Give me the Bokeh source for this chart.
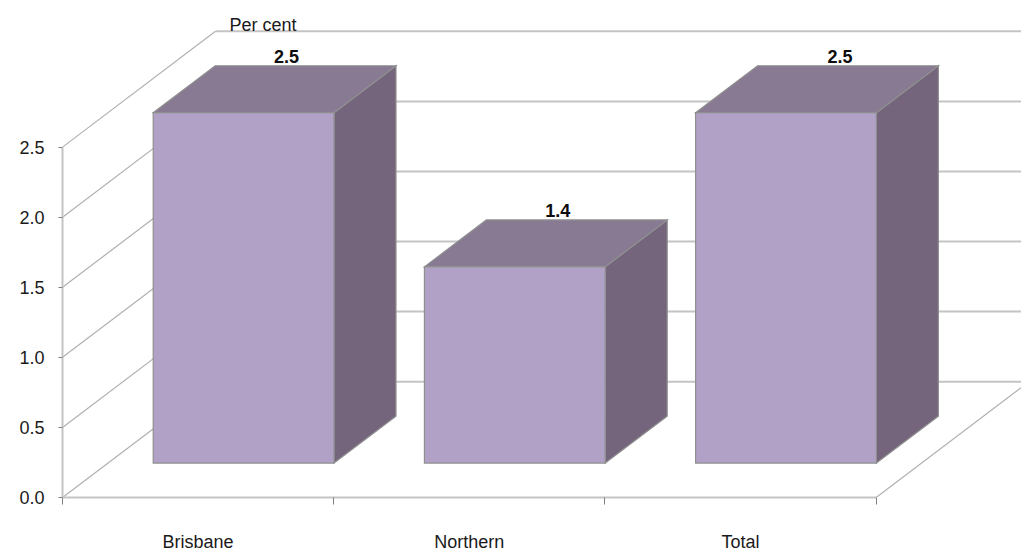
from bokeh.core.properties import value
from bokeh.embed import file_html
from bokeh.models import FixedTicker, Range1d
from bokeh.plotting import figure
from bokeh.resources import INLINE

# Chart data
categories = ["Brisbane", "Northern", "Total"]
percent = [2.5, 1.4, 2.5]
value_ticks = [0.0, 0.5, 1.0, 1.5, 2.0, 2.5]
value_labels = ["0.0", "0.5", "1.0", "1.5", "2.0", "2.5"]
unit_label = "Per cent"

# Layout of the box, in screen pixels
PX_LEFT, PX_BOTTOM = 62, 54
W, H = 1021, 554
PX_PER_CAT, PX_PER_VAL = 271.2, 141.0
DEPTH_PX_X, DEPTH_PX_Y = 153.0, 116.5
LABEL_NUDGE_PX = [-19, -19, -8]

# Bar placement inside each category slot (x) and through the depth (d)
BAR_INSET = 1 / 6
BAR_D0, BAR_D1 = 0.2975, 0.7025

FONT = value("Liberation Sans")
FRONT, TOP, SIDE = "#b1a1c6", "#897a94", "#74657c"
EDGE = "#8f8f8f"
GRID = "#c4c4c4"
DIAG = "#b0b0b0"

dx_unit = DEPTH_PX_X / PX_PER_CAT
dy_unit = DEPTH_PX_Y / PX_PER_VAL


def project(x, v, d):
    """Oblique projection of (category position, value, depth) onto the plot plane."""
    return x + d * dx_unit, v + d * dy_unit


p = figure(
    width=W, height=H, output_backend="svg", toolbar_location=None,
    x_range=Range1d(0, (W - PX_LEFT) / PX_PER_CAT),
    y_range=Range1d(0, (H - PX_BOTTOM) / PX_PER_VAL),
    min_border_left=PX_LEFT, min_border_right=0, min_border_top=0, min_border_bottom=PX_BOTTOM,
)
p.outline_line_color = None
p.grid.visible = False
p.background_fill_color = "white"
p.border_fill_color = "white"

# Back wall gridlines and side wall diagonals
n_cat = len(categories)
for v in value_ticks:
    x0, y0 = project(0, v, 1)
    x1, y1 = project(n_cat, v, 1)
    p.line([x0, x1], [y0, y1], line_color=GRID, line_width=2)
    x2, y2 = project(0, v, 0)
    p.line([x2, x0], [y2, y0], line_color=DIAG, line_width=1.2)

# Floor edge on the right
fx0, fy0 = project(n_cat, 0, 0)
fx1, fy1 = project(n_cat, 0, 1)
p.line([fx0, fx1], [fy0, fy1], line_color=DIAG, line_width=1.2)

# Bars: side and top faces first, then the front face
for i, val in enumerate(percent):
    xl, xr = i + BAR_INSET, i + 1 - BAR_INSET
    corners = {
        "side": [project(xr, 0, BAR_D0), project(xr, 0, BAR_D1), project(xr, val, BAR_D1), project(xr, val, BAR_D0)],
        "top": [project(xl, val, BAR_D0), project(xr, val, BAR_D0), project(xr, val, BAR_D1), project(xl, val, BAR_D1)],
        "front": [project(xl, 0, BAR_D0), project(xr, 0, BAR_D0), project(xr, val, BAR_D0), project(xl, val, BAR_D0)],
    }
    for face, colour in (("side", SIDE), ("top", TOP), ("front", FRONT)):
        xs = [c[0] for c in corners[face]]
        ys = [c[1] for c in corners[face]]
        p.patch(xs, ys, fill_color=colour, line_color=EDGE, line_width=1.2, line_join="miter")

    # Value printed above the bar
    lx, ly = project((xl + xr) / 2, val, BAR_D1)
    p.text([lx], [ly], text=[f"{val:.1f}"], text_font=FONT, text_font_size="18px",
           text_font_style="bold", text_color="#0d0d0d", text_align="center",
           text_baseline="alphabetic", x_offset=LABEL_NUDGE_PX[i], y_offset=-9)

# Unit caption at the top of the value axis
ux, uy = project(0, value_ticks[-1], 1)
p.text([ux], [uy], text=[unit_label], text_font=FONT, text_font_size="18px", text_color="#1a1a1a",
       text_align="left", text_baseline="alphabetic", x_offset=14, y_offset=-6)

# Value axis
ya = p.yaxis[0]
ya.ticker = FixedTicker(ticks=value_ticks)
ya.major_label_overrides = dict(zip(value_ticks, value_labels))
ya.bounds = (value_ticks[0], value_ticks[-1])
ya.axis_line_color = GRID
ya.axis_line_width = 2
ya.major_tick_line_color = "#808080"
ya.major_tick_in = 0
ya.major_tick_out = 4
ya.minor_tick_line_color = None
ya.major_label_text_font = "Liberation Sans"
ya.major_label_text_font_size = "18px"
ya.major_label_text_color = "#1a1a1a"
ya.major_label_standoff = 14

# Category axis: slot boundaries carry the ticks, slot centres carry the names
centres = [i + 0.5 for i in range(n_cat)]
xa = p.xaxis[0]
xa.ticker = FixedTicker(ticks=centres, minor_ticks=list(range(n_cat + 1)))
xa.major_label_overrides = dict(zip(centres, categories))
xa.bounds = (0, n_cat)
xa.axis_line_color = GRID
xa.axis_line_width = 2
xa.major_tick_line_color = None
xa.major_tick_in = 0
xa.major_tick_out = 0
xa.minor_tick_line_color = "#808080"
xa.minor_tick_in = 0
xa.minor_tick_out = 7
xa.major_label_text_font = "Liberation Sans"
xa.major_label_text_font_size = "18px"
xa.major_label_text_color = "#1a1a1a"
xa.major_label_standoff = 27

open("out.html", "w").write(file_html(p, INLINE))
